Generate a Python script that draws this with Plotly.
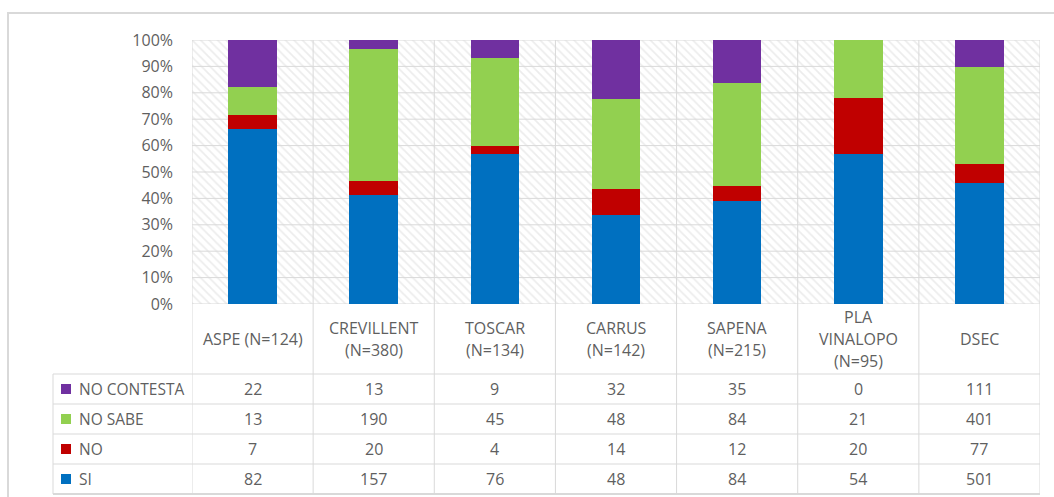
import numpy as np
import plotly.graph_objects as go

# Categories (table header) and answer counts per category
categories = ["ASPE (N=124)", "CREVILLENT<br>(N=380)", "TOSCAR<br>(N=134)",
              "CARRUS<br>(N=142)", "SAPENA<br>(N=215)", "PLA<br>VINALOPO<br>(N=95)", "DSEC"]
series_names = ["NO CONTESTA", "NO SABE", "NO", "SI"]
no_contesta = [22, 13, 9, 32, 35, 0, 111]
no_sabe = [13, 190, 45, 48, 84, 21, 401]
no = [7, 20, 4, 14, 12, 20, 77]
si = [82, 157, 76, 48, 84, 54, 501]
colors = {"SI": "#0070C0", "NO": "#C00000", "NO SABE": "#92D050", "NO CONTESTA": "#7030A0"}
y_ticks = [0, 10, 20, 30, 40, 50, 60, 70, 80, 90, 100]

W, H = 1054, 497
TEXT = "#5f5f5f"
GRID = "#d9d9d9"
FONT = "Open Sans"

def px_x(p):
    return p / W

def px_y(p):
    return 1 - p / H

counts = {"NO CONTESTA": no_contesta, "NO SABE": no_sabe, "NO": no, "SI": si}
totals = np.array(si) + np.array(no) + np.array(no_sabe) + np.array(no_contesta)
xs = list(range(len(categories)))

x_dom = [px_x(192), px_x(1040)]
y_dom = [px_y(304), px_y(40)]

fig = go.Figure()

# hatched plot background, one full-width column per category
fig.add_trace(go.Bar(
    x=xs, y=[100] * len(xs), width=1, xaxis="x", yaxis="y",
    marker=dict(color="white", line=dict(width=0),
                pattern=dict(shape="\\", fgcolor="#dadada", bgcolor="white", size=6, solidity=0.3)),
    showlegend=False, hoverinfo="skip"))

# grid lines drawn over the hatching
gx, gy = [], []
for t in y_ticks:
    gx += [-0.5, len(xs) - 0.5, None]
    gy += [t, t, None]
for i in range(len(xs) + 1):
    gx += [i - 0.5, i - 0.5, None]
    gy += [0, 100, None]
fig.add_trace(go.Scatter(x=gx, y=gy, mode="lines", line=dict(color=GRID, width=1),
                         xaxis="x", yaxis="y", showlegend=False, hoverinfo="skip"))

# stacked percentage bars on the overlaying axis
for name in ["SI", "NO", "NO SABE", "NO CONTESTA"]:
    pct = np.array(counts[name]) / totals * 100
    fig.add_trace(go.Bar(
        x=xs, y=pct, width=0.4, name=name, xaxis="x", yaxis="y2",
        marker=dict(color=colors[name], line=dict(width=0)),
        showlegend=False))

shapes = []
annotations = []

# outer frame
shapes.append(dict(type="rect", xref="paper", yref="paper",
                   x0=px_x(8), x1=px_x(1062), y0=px_y(505), y1=px_y(13),
                   line=dict(color=GRID, width=2), layer="below"))

# table rows
row_edges = [374, 404, 434, 464, 494]
for r in row_edges:
    shapes.append(dict(type="line", xref="paper", yref="paper",
                       x0=px_x(53), x1=x_dom[1], y0=px_y(r), y1=px_y(r),
                       line=dict(color=GRID, width=2 if r == 494 else 1)))
# column separators through the table
for i in range(len(xs) + 1):
    shapes.append(dict(type="line", xref="x", yref="paper",
                       x0=i - 0.5, x1=i - 0.5, y0=px_y(494), y1=px_y(304),
                       line=dict(color=GRID, width=1)))
shapes.append(dict(type="line", xref="paper", yref="paper",
                   x0=px_x(53), x1=px_x(53), y0=px_y(494), y1=px_y(374),
                   line=dict(color=GRID, width=1)))

# header labels, one line at a time with Excel-like line spacing
LINE_PITCH = 22
for i, c in enumerate(categories):
    lines = c.split("<br>")
    for k, line in enumerate(lines):
        cy = 339 + (k - (len(lines) - 1) / 2) * LINE_PITCH
        annotations.append(dict(x=i, y=px_y(cy), xref="x", yref="paper", text=line,
                                showarrow=False, font=dict(family=FONT, size=16, color=TEXT),
                                xanchor="center", yanchor="middle"))

# value rows with legend keys
for r, name in enumerate(series_names):
    cy = px_y((row_edges[r] + row_edges[r + 1]) / 2)
    shapes.append(dict(type="rect", xref="paper", yref="paper",
                       x0=px_x(61), x1=px_x(71),
                       y0=cy - 5 / H, y1=cy + 5 / H,
                       fillcolor=colors[name], line=dict(width=0)))
    annotations.append(dict(x=px_x(77), y=cy, xref="paper", yref="paper", text=name,
                            showarrow=False, font=dict(family=FONT, size=15.5, color=TEXT),
                            xanchor="left", yanchor="middle"))
    for i, v in enumerate(counts[name]):
        annotations.append(dict(x=i, y=cy, xref="x", yref="paper", text=str(v),
                                showarrow=False, font=dict(family=FONT, size=16, color=TEXT),
                                xanchor="center", yanchor="middle"))

fig.update_layout(
    width=W, height=H,
    margin=dict(l=0, r=0, t=0, b=0, autoexpand=False),
    paper_bgcolor="white", plot_bgcolor="white",
    barmode="stack", bargap=0,
    showlegend=False,
    xaxis=dict(domain=x_dom, range=[-0.5, len(xs) - 0.5], showticklabels=False,
               showgrid=False, zeroline=False, showline=False, automargin=False),
    yaxis=dict(domain=y_dom, range=[0, 100], tickmode="array", tickvals=y_ticks,
               ticktext=[f"{t}%" for t in y_ticks],
               showgrid=False, zeroline=False, showline=False, automargin=False,
               tickfont=dict(family=FONT, size=16, color=TEXT), ticklabelstandoff=18),
    yaxis2=dict(overlaying="y", range=[0, 100], showticklabels=False,
                showgrid=False, zeroline=False, showline=False, automargin=False),
    shapes=shapes, annotations=annotations,
)

fig.write_html("out.html")
